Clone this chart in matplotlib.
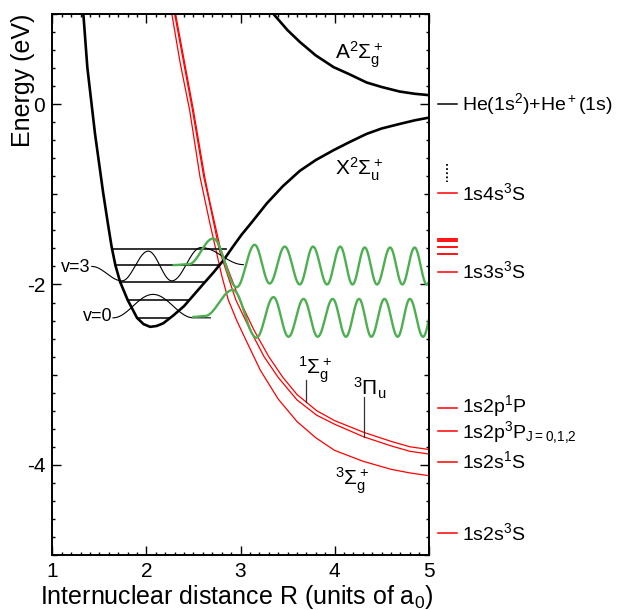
import numpy as np
import matplotlib
matplotlib.use("Agg")
import matplotlib.pyplot as plt
from matplotlib.ticker import MultipleLocator

plt.rcParams['font.family'] = ['Liberation Sans', 'DejaVu Sans']
plt.rcParams['mathtext.fontset'] = 'custom'
plt.rcParams['mathtext.rm'] = 'Liberation Sans'
plt.rcParams['mathtext.it'] = 'Liberation Sans:italic'
plt.rcParams['mathtext.bf'] = 'Liberation Sans:bold'
plt.rcParams['axes.unicode_minus'] = False

# --- He2+ potential curves (R in a0, E in eV) ---
x_state_R = [1.33, 1.372, 1.454, 1.54, 1.59, 1.63, 1.67, 1.72, 1.80, 1.90, 1.97, 2.04,
             2.11, 2.18, 2.29, 2.40, 2.50, 2.60, 2.71, 2.82, 2.92, 3.01, 3.12, 3.28,
             3.45, 3.63, 3.80, 3.99, 4.16, 4.34, 4.50, 4.69, 4.85, 5.0]
x_state_E = [1.0, 0.41, -0.33, -0.98, -1.32, -1.58, -1.785, -1.97, -2.17, -2.37, -2.44, -2.47,
             -2.46, -2.43, -2.34, -2.24, -2.12, -2.00, -1.87, -1.73, -1.58, -1.45, -1.31, -1.10,
             -0.91, -0.74, -0.62, -0.51, -0.42, -0.33, -0.27, -0.22, -0.18, -0.15]

a_state_R = [3.35, 3.50, 3.63, 3.80, 3.99, 4.16, 4.34, 4.50, 4.69, 4.85, 5.0]
a_state_E = [1.0, 0.82, 0.69, 0.54, 0.41, 0.33, 0.24, 0.19, 0.14, 0.115, 0.10]

# He2 excited states (red)
sig_g1_R = [2.31, 2.50, 2.62, 2.67, 2.79, 2.99, 3.14, 3.30, 3.45, 3.60, 3.81, 4.00, 4.31, 4.60, 4.80, 5.0]
sig_g1_E = [1.0, -0.07, -0.81, -1.065, -1.62, -2.17, -2.50, -2.80, -3.03, -3.22, -3.40, -3.51, -3.64, -3.74, -3.80, -3.83]
pi_u3_R = [2.30, 2.49, 2.61, 2.665, 2.775, 2.95, 3.10, 3.25, 3.40, 3.60, 3.81, 4.00, 4.31, 4.60, 4.80, 5.0]
pi_u3_E = [1.0, -0.07, -0.81, -1.065, -1.62, -2.17, -2.50, -2.80, -3.03, -3.28, -3.45, -3.55, -3.69, -3.79, -3.85, -3.88]
sig_g3_R = [2.27, 2.36, 2.46, 2.57, 2.67, 2.80, 2.87, 2.96, 3.05, 3.21, 3.40, 3.60, 3.80, 4.00, 4.30, 4.60, 4.80, 5.0]
sig_g3_E = [1.0, 0.45, -0.07, -0.81, -1.30, -1.90, -2.17, -2.40, -2.60, -2.95, -3.27, -3.52, -3.70, -3.84, -3.96, -4.05, -4.09, -4.12]

# vibrational levels of X state: energy, left end, right end
vib_E = [-1.61, -1.785, -1.97, -2.17, -2.37]
vib_Rl = [1.63, 1.67, 1.72, 1.80, 1.90]
vib_Rr = [2.85, 2.76, 2.60, 2.45, 2.25]

# bound wavefunctions (extrema)
wf3_R = [1.42, 1.74, 2.02, 2.27, 2.58, 3.03]
wf3_E = [-1.80, -1.96, -1.63, -1.96, -1.59, -1.78]
wf0_R = [1.645, 2.07, 2.50, 2.68]
wf0_E = [-2.37, -2.11, -2.37, -2.37]

# continuum wavefunctions (green)
cont_hi_R = [2.29, 2.45, 2.71, 2.96, 3.15, 3.31, 3.47, 3.63, 3.77, 3.92, 4.06, 4.19, 4.32,
             4.45, 4.59, 4.72, 4.85, 4.98, 5.11]
cont_hi_E = [-1.785, -1.775, -1.49, -2.03, -1.56, -1.99, -1.58, -2.0, -1.58, -2.0, -1.58, -2.0,
             -1.59, -2.0, -1.59, -2.0, -1.59, -2.0, -1.59]
cont_lo_R = [2.50, 2.62, 2.92, 3.17, 3.35, 3.51, 3.67, 3.82, 3.98, 4.12, 4.26, 4.39, 4.53,
             4.67, 4.80, 4.94, 5.07]
cont_lo_E = [-2.36, -2.35, -2.06, -2.59, -2.14, -2.58, -2.16, -2.58, -2.16, -2.58, -2.16, -2.58,
             -2.16, -2.58, -2.16, -2.58, -2.16]

# atomic asymptotes on the right
atom_labels = [r"$\mathrm{He(1s^2){+}He^+(1s)}$", "1s4s$^3$S", "1s3s$^3$S", "1s2p$^1$P",
               r"1s2p$^3$P$_\mathrm{J{=}0{,}1{,}2}$", "1s2s$^1$S", "1s2s$^3$S"]
atom_E = [0.0, -0.99, -1.86, -3.37, -3.62, -3.965, -4.76]
atom_colors = ["black", "red", "red", "red", "red", "red", "red"]
n3_unlabeled_E = [-1.50, -1.52, -1.58, -1.665]


def through_extrema(rs, es, n=40):
    # half-cosine pieces between successive read-off extrema
    xs, ys = [], []
    for i in range(len(rs) - 1):
        t = np.linspace(0, 1, n)
        xs.append(rs[i] + (rs[i + 1] - rs[i]) * t)
        ys.append(es[i] + (es[i + 1] - es[i]) * (1 - np.cos(np.pi * t)) / 2)
    return np.concatenate(xs), np.concatenate(ys)


fig = plt.figure(figsize=(6.19, 6.10), dpi=100)
ax = fig.add_axes([0.0845, 0.0902, 0.6081, 0.8869])

red = "#ff0000"
green = "#4caf50"

ax.plot(sig_g3_R, sig_g3_E, color=red, lw=0.9)
ax.plot(pi_u3_R, pi_u3_E, color=red, lw=0.9)
ax.plot(sig_g1_R, sig_g1_E, color=red, lw=0.9)

for e, rl, rr in zip(vib_E, vib_Rl, vib_Rr):
    ax.plot([rl, rr], [e, e], color="#222222", lw=1.3)

r, e = through_extrema(wf3_R, wf3_E)
ax.plot(r, e, color="black", lw=0.8, clip_on=False)
r, e = through_extrema(wf0_R, wf0_E)
ax.plot(r, e, color="black", lw=0.8, clip_on=False)

ax.plot(x_state_R, x_state_E, color="black", lw=1.9)
ax.plot(a_state_R, a_state_E, color="black", lw=1.9)

r, e = through_extrema(cont_hi_R, cont_hi_E)
ax.plot(r, e, color=green, lw=1.7)
r, e = through_extrema(cont_lo_R, cont_lo_E)
ax.plot(r, e, color=green, lw=1.7)

# state labels
fs = 15
ax.text(4.0, 0.50, r"A$^2\Sigma_\mathrm{g}^+$", fontsize=fs, va="baseline")
ax.text(4.0, -0.79, r"X$^2\Sigma_\mathrm{u}^+$", fontsize=fs, va="baseline")
ax.text(3.61, -3.0, r"$^1\Sigma_\mathrm{g}^+$", fontsize=fs, va="baseline")
ax.text(4.20, -3.23, r"$^3\Pi_\mathrm{u}$", fontsize=fs, va="baseline")
ax.text(4.00, -4.23, r"$^3\Sigma_\mathrm{g}^+$", fontsize=fs, va="baseline")
ax.plot([3.70, 3.70], [-3.06, -3.30], color="#333333", lw=0.9)
ax.plot([4.31, 4.31], [-3.25, -3.69], color="#333333", lw=0.9)

ax.text(1.41, -1.81, "v=3", fontsize=13, ha="right", va="center")
ax.text(1.64, -2.36, "v=0", fontsize=13, ha="right", va="center")

# atomic limits outside the frame
for i, (lab, e, c) in enumerate(zip(atom_labels, atom_E, atom_colors)):
    ax.plot([5.10, 5.30], [e, e], color=c, lw=1.1, clip_on=False)
    off = 0.045 if i == 3 else (0.085 if i == 4 else 0.07)
    ax.text(5.354, e - off, lab, fontsize=14, va="baseline", ha="left")
for e in n3_unlabeled_E:
    ax.plot([5.10, 5.30], [e, e], color=red, lw=1.3, clip_on=False)
ax.plot([5.198, 5.198], [-0.665, -0.86], color="black", lw=1.3, ls=(0, (1, 1.3)), clip_on=False)

ax.set_xlim(1, 5)
ax.set_ylim(-5, 1)
ax.set_xticks([1, 2, 3, 4, 5])
ax.xaxis.set_minor_locator(MultipleLocator(0.1))
yt = list(range(-5, 2))
ax.set_yticks(yt)
ax.set_yticklabels(["" if v % 2 else str(v) for v in yt])
ax.yaxis.set_minor_locator(MultipleLocator(0.2))
ax.tick_params(which="both", direction="in", top=True, right=True, width=1.0)
ax.tick_params(which="major", length=6.5, labelsize=15, pad=5)
ax.tick_params(which="minor", length=2.2)
for t, v in zip(ax.yaxis.get_major_ticks(), yt):
    if v % 2:
        t.tick1line.set_markersize(3.8)
        t.tick2line.set_markersize(3.8)
for s in ax.spines.values():
    s.set_linewidth(1.4)

ax.set_xlabel("Internuclear distance R (units of a$_0$)", fontsize=18)
ax.xaxis.set_label_coords(0.489, -0.052)
ax.set_ylabel("Energy (eV)", fontsize=18)
ax.yaxis.set_label_coords(-0.046, 0.878)

fig.savefig("out.png", dpi=100)
